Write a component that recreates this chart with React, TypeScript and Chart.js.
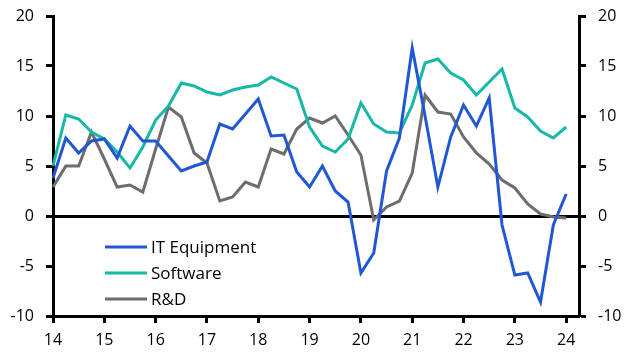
import React, { useEffect, useRef } from "react";
import { Chart, registerables } from "chart.js";

Chart.register(...registerables);

const quarters = [
  "14Q1","14Q2","14Q3","14Q4","15Q1","15Q2","15Q3","15Q4",
  "16Q1","16Q2","16Q3","16Q4","17Q1","17Q2","17Q3","17Q4",
  "18Q1","18Q2","18Q3","18Q4","19Q1","19Q2","19Q3","19Q4",
  "20Q1","20Q2","20Q3","20Q4","21Q1","21Q2","21Q3","21Q4",
  "22Q1","22Q2","22Q3","22Q4","23Q1","23Q2","23Q3","23Q4",
  "24Q1","24Q2",
];

const itEquipment = [3.8,7.8,6.3,7.5,7.7,5.8,9.0,7.5,7.5,6.0,4.5,5.0,5.4,9.2,8.7,10.2,11.7,8.0,8.1,4.4,2.9,5.0,2.5,1.4,-5.7,-3.7,4.5,7.8,16.8,10.0,2.9,7.9,11.1,9.0,11.8,-0.9,-5.9,-5.7,-8.6,-0.9,2.2];
const software = [5.0,10.1,9.7,8.4,7.7,6.4,4.8,6.9,9.6,11.0,13.3,13.0,12.4,12.1,12.6,12.9,13.1,13.9,13.3,12.7,8.9,7.0,6.4,7.7,11.3,9.2,8.4,8.3,11.1,15.3,15.7,14.3,13.6,12.1,13.4,14.7,10.8,9.9,8.5,7.8,8.9];
const rnd = [2.9,5.0,5.0,8.4,5.7,2.9,3.1,2.4,6.7,10.9,9.9,6.3,5.3,1.5,1.9,3.4,2.9,6.7,6.2,8.7,9.8,9.3,10.0,8.1,6.1,-0.4,0.9,1.5,4.3,12.1,10.4,10.2,7.9,6.3,5.2,3.6,2.8,1.2,0.2,-0.1,-0.2];

const seriesNames = ["IT Equipment", "Software", "R&D"];
const seriesColors = ["#2157d4", "#16b8a6", "#6d6d6d"];

const yMin = -10;
const yMax = 20;
const yStep = 5;

const FONT = "'Open Sans', 'Noto Sans', sans-serif";

const legendPlugin = {
  id: "insideLegend",
  afterDraw(chart: any) {
    const ctx = chart.ctx;
    const x0 = 105, x1 = 147, tx = 151;
    const ys = [247, 273, 299];
    ctx.save();
    seriesNames.forEach((name, i) => {
      ctx.strokeStyle = seriesColors[i];
      ctx.lineWidth = 3;
      ctx.beginPath();
      ctx.moveTo(x0, ys[i]);
      ctx.lineTo(x1, ys[i]);
      ctx.stroke();
      ctx.fillStyle = "#000";
      ctx.font = `17px ${FONT}`;
      ctx.textBaseline = "middle";
      ctx.textAlign = "left";
      ctx.fillText(name, tx, ys[i] + 1);
    });
    ctx.restore();
  },
};

export default function App() {
  const ref = useRef<HTMLCanvasElement>(null);
  useEffect(() => {
    if (!ref.current) return;
    const isYear = (i: number) => quarters[i] && quarters[i].endsWith("Q1");
    const fitY = (w: number) => (s: any) => {
      s.width = w;
      s.paddingTop = 0;
      s.paddingBottom = 0;
    };
    const chart = new Chart(ref.current, {
      type: "line",
      data: {
        labels: quarters,
        datasets: [itEquipment, software, rnd].map((d, i) => ({
          label: seriesNames[i],
          data: d,
          borderColor: seriesColors[i],
          backgroundColor: seriesColors[i],
          borderWidth: 3,
          pointRadius: 0,
          tension: 0,
          yAxisID: "y",
        })),
      },
      options: {
        animation: false,
        responsive: true,
        maintainAspectRatio: false,
        layout: { padding: { top: 16, left: 0, right: 0, bottom: 0 } },
        plugins: { legend: { display: false }, tooltip: { enabled: false } },
        scales: {
          x: {
            type: "category",
            offset: false,
            border: { color: "#000", width: 3 },
            grid: {
              drawOnChartArea: false,
              tickLength: 7,
              tickWidth: 3,
              tickColor: (c: any) => (isYear(c.index) ? "#000" : "rgba(0,0,0,0)"),
            },
            ticks: {
              autoSkip: false,
              maxRotation: 0,
              padding: 8,
              color: "#000",
              font: { family: FONT, size: 16 },
              callback: (_v: any, i: number) => (isYear(i) ? quarters[i].slice(0, 2) : ""),
            },
            afterFit: (s: any) => { s.height = 39; s.paddingLeft = 0; s.paddingRight = 0; },
          },
          y: {
            position: "left",
            min: yMin,
            max: yMax,
            border: { color: "#000", width: 3 },
            grid: {
              color: (c: any) => (c.tick && c.tick.value === 0 ? "#000" : "rgba(0,0,0,0)"),
              lineWidth: 3,
              tickLength: 7,
              tickWidth: 3,
              tickColor: "#000",
            },
            ticks: {
              stepSize: yStep,
              padding: 12,
              color: "#000",
              font: { family: FONT, size: 16 },
            },
            afterFit: fitY(53),
          },
          y2: {
            position: "right",
            min: yMin,
            max: yMax,
            border: { color: "#000", width: 3 },
            grid: {
              drawOnChartArea: false,
              tickLength: 7,
              tickWidth: 3,
              tickColor: "#000",
            },
            ticks: {
              stepSize: yStep,
              padding: 12,
              color: "#000",
              font: { family: FONT, size: 16 },
            },
            afterFit: fitY(51),
          },
        },
      },
      plugins: [legendPlugin],
    } as any);
    return () => chart.destroy();
  }, []);
  return (
    <div style={{ position: "absolute", left: 0, top: 0, width: 630, height: 355, background: "#fff" }}>
      <canvas ref={ref} />
    </div>
  );
}
